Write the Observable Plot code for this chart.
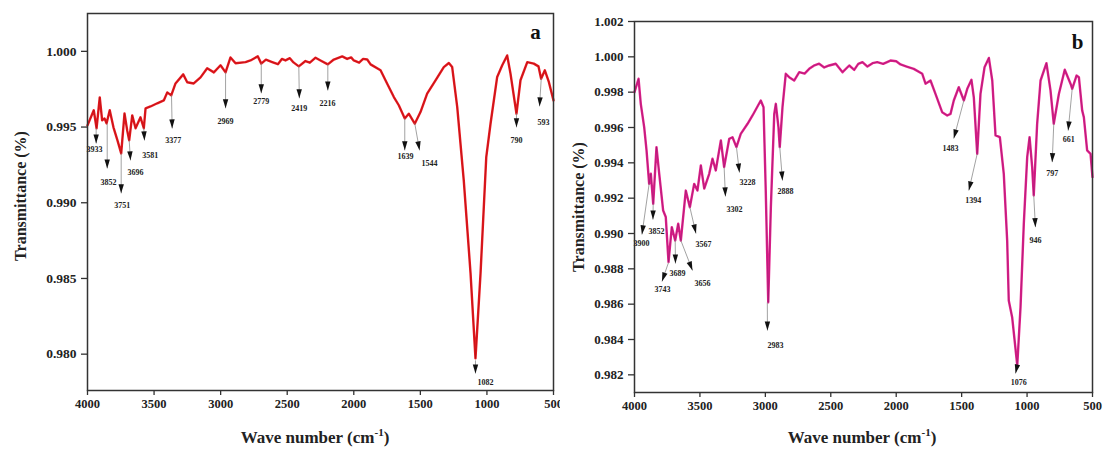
<!DOCTYPE html>
<html><head><meta charset="utf-8">
<script src="https://cdn.jsdelivr.net/npm/d3@7"></script>
<script src="https://cdn.jsdelivr.net/npm/@observablehq/plot@0.6"></script>
<style>
body{margin:0;background:#fff;}
#wrap{position:relative;width:1103px;height:451px;overflow:hidden;font-family:"Liberation Serif","DejaVu Serif",serif;}
.panel{position:absolute;top:0;}
.xt{position:absolute;font-weight:bold;font-size:17px;line-height:20px;transform:translateX(-50%);white-space:nowrap;color:#222;}
.xt sup{font-size:11px;vertical-align:7px;line-height:0;}
</style></head><body><div id="wrap"></div>
<script>
// ---- shared axis ticks ----
const xTicks = [4000, 3500, 3000, 2500, 2000, 1500, 1000, 500];
const yTicksA = [0.980, 0.985, 0.990, 0.995, 1.000];
const yTicksB = [0.982, 0.984, 0.986, 0.988, 0.990, 0.992, 0.994, 0.996, 0.998, 1.000, 1.002];

// ---- panel a spectrum ----
const wnA = [4000,3953,3932,3908,3890,3872,3857,3833,3805,3775,3747,3722,3702,3687,3664,3639,3602,3577,3564,3527,3476,3427,3401,3371,3339,3281,3251,3202,3151,3101,3051,3001,2963,2926,2888,2813,2776,2721,2695,2660,2613,2570,2540,2513,2480,2453,2413,2363,2330,2287,2250,2195,2150,2087,2050,2020,2000,1960,1930,1899,1874,1799,1749,1699,1662,1617,1587,1542,1499,1449,1386,1324,1286,1261,1223,1174,1123,1086,1048,1005,973,923,885,848,823,778,748,697,648,613,593,565,535,500];
const trA = [0.99511,0.99611,0.99492,0.99696,0.99544,0.99557,0.99524,0.99611,0.99498,0.99412,0.99326,0.99590,0.99478,0.99412,0.99577,0.99492,0.99564,0.99492,0.99623,0.99636,0.99657,0.99676,0.99729,0.99709,0.99788,0.99848,0.99796,0.99788,0.99828,0.99888,0.99861,0.99908,0.99861,0.99960,0.99921,0.99929,0.99940,0.99967,0.99919,0.99945,0.99929,0.99915,0.99950,0.99940,0.99955,0.99927,0.99901,0.99936,0.99925,0.99958,0.99940,0.99914,0.99946,0.99967,0.99950,0.99960,0.99940,0.99925,0.99950,0.99946,0.99914,0.99875,0.99786,0.99698,0.99644,0.99557,0.99588,0.99522,0.99599,0.99721,0.99809,0.99896,0.99923,0.99896,0.99632,0.99148,0.98534,0.97972,0.98534,0.99302,0.99522,0.99831,0.99908,0.99973,0.99853,0.99588,0.99809,0.99929,0.99919,0.99901,0.99819,0.99875,0.99798,0.99676];

// ---- panel a peak annotations ----
const annA = {
  label: ["3933","3852","3751","3696","3581","3377","2969","2779","2419","2216","1639","1544","1082","790","593"],
  w1: [3935,3852,3747,3687,3577,3369,2963,2695,2413,2195,1617,1542,1086,778,592],
  t1: [0.99491,0.99524,0.99326,0.99412,0.99491,0.99709,0.99861,0.99921,0.99901,0.99914,0.99557,0.99524,0.97959,0.99590,0.99822],
  w2: [3935,3852,3747,3677,3572,3364,2963,2695,2409,2195,1617,1506,1086,778,605],
  t2: [0.99392,0.99227,0.99062,0.99280,0.99412,0.99491,0.99624,0.99723,0.99690,0.99742,0.99346,0.99346,0.97873,0.99498,0.99637],
  tw: [3947,3842,3739,3639,3529,3356,2963,2695,2409,2197,1612,1431,1011,778,575],
  tt: [0.99353,0.99135,0.98983,0.99201,0.99313,0.99412,0.99538,0.99670,0.99624,0.99657,0.99307,0.99260,0.97814,0.99412,0.99531]
};

// ---- panel b spectrum ----
const wnB = [4000,3969,3952,3926,3908,3888,3875,3857,3832,3811,3781,3761,3740,3715,3689,3666,3646,3608,3577,3544,3519,3493,3467,3429,3404,3379,3340,3315,3276,3251,3221,3188,3136,3098,3035,3014,2997,2978,2958,2932,2920,2900,2890,2869,2844,2818,2780,2741,2700,2665,2630,2589,2550,2512,2462,2410,2359,2321,2290,2258,2220,2181,2145,2100,2044,2000,1967,1920,1866,1801,1776,1738,1700,1649,1610,1585,1560,1522,1483,1457,1425,1407,1381,1356,1325,1292,1266,1241,1208,1178,1152,1140,1114,1075,1050,1025,999,981,961,949,923,897,852,821,796,757,712,668,655,622,604,579,566,541,515,500];
const trB = [0.99800,0.99876,0.99734,0.99602,0.99470,0.99281,0.99338,0.99168,0.99489,0.99338,0.99130,0.99093,0.98838,0.99036,0.98960,0.99055,0.98960,0.99243,0.99149,0.99281,0.99243,0.99385,0.99254,0.99338,0.99423,0.99357,0.99527,0.99376,0.99536,0.99545,0.99489,0.99564,0.99621,0.99668,0.99753,0.99715,0.99243,0.98610,0.99149,0.99677,0.99734,0.99602,0.99489,0.99715,0.99904,0.99885,0.99866,0.99913,0.99905,0.99932,0.99950,0.99961,0.99940,0.99951,0.99961,0.99913,0.99951,0.99926,0.99960,0.99970,0.99945,0.99964,0.99970,0.99960,0.99979,0.99975,0.99957,0.99945,0.99932,0.99904,0.99848,0.99866,0.99790,0.99687,0.99668,0.99677,0.99753,0.99828,0.99753,0.99819,0.99870,0.99771,0.99451,0.99790,0.99941,0.99994,0.99866,0.99555,0.99545,0.99338,0.98960,0.98621,0.98526,0.98253,0.98583,0.99055,0.99432,0.99545,0.99376,0.99215,0.99621,0.99866,0.99964,0.99810,0.99621,0.99790,0.99927,0.99848,0.99819,0.99894,0.99885,0.99697,0.99658,0.99470,0.99451,0.99319];

// ---- panel b peak annotations ----
const annB = {
  label: ["3900","3852","3743","3689","3656","3567","3302","3228","2983","2888","1483","1394","1076","946","797","661"],
  w1: [3888,3857,3740,3689,3646,3577,3315,3221,2985,2890,1483,1381,1075,949,796,655],
  t1: [0.99282,0.99168,0.98836,0.98961,0.98961,0.99149,0.99375,0.99489,0.98610,0.99489,0.99753,0.99451,0.98253,0.99215,0.99621,0.99819],
  w2: [3943,3859,3790,3687,3557,3530,3305,3198,2984,2869,1560,1445,1088,936,808,686],
  t2: [0.98995,0.99079,0.98729,0.98830,0.98791,0.99000,0.99210,0.99345,0.98451,0.99300,0.99538,0.99244,0.98208,0.99036,0.99404,0.99583],
  tw: [3947,3832,3786,3671,3480,3473,3236,3136,2922,2846,1585,1412,1063,936,808,681],
  tt: [0.98944,0.99012,0.98683,0.98774,0.98717,0.98938,0.99136,0.99289,0.98366,0.99238,0.99481,0.99187,0.98157,0.98961,0.99338,0.99531]
};

const FONT = '"Liberation Serif","DejaVu Serif",serif';
// arrow head: tip at origin, pointing down before rotation
const headSym = {draw(ctx){ const h = 9, hw = 2.7; ctx.moveTo(0,0); ctx.lineTo(-hw,-h); ctx.lineTo(hw,-h); ctx.closePath(); }};

function makePanel(c){
  const sx = d3.scaleLinear([4000,500],[c.ml, c.W - c.mr]);
  const sy = d3.scaleLinear(c.yDomain,[c.H - c.mb, c.mt]);
  const spec = c.wn.map((w,i)=>({w, t:c.tr[i]}));
  const a = c.ann;
  const notes = a.label.map((l,i)=>({
    label:l, w1:a.w1[i], t1:a.t1[i], w2:a.w2[i], t2:a.t2[i], tw:a.tw[i], tt:a.tt[i],
    rot: Math.atan2(-(sx(a.w2[i]) - sx(a.w1[i])), sy(a.t2[i]) - sy(a.t1[i])) * 180 / Math.PI
  }));
  return Plot.plot({
    width:c.W, height:c.H, marginLeft:c.ml, marginRight:c.mr, marginTop:c.mt, marginBottom:c.mb,
    x:{domain:[4000,500]}, y:{domain:c.yDomain},
    style:{fontFamily:FONT, fontWeight:"bold", color:"#222", background:"white", overflow:"visible"},
    marks:[
      Plot.axisX(xTicks, {tickSize:5, tickPadding:4, fontSize:12.5, tickFormat:d=>String(d), label:null, stroke:"#333", strokeWidth:1.3}),
      Plot.axisY(c.yTicks, {tickSize:6, tickPadding:5, fontSize:c.yFont, tickFormat:d=>d.toFixed(3), label:null, stroke:"#333", strokeWidth:1.3}),
      Plot.line(spec, {x:"w", y:"t", stroke:c.color, strokeWidth:2.4, strokeLinejoin:"round"}),
      Plot.line(spec, {x:"w", y:"t", stroke:c.core, strokeWidth:0.7, strokeOpacity:0.45}),
      Plot.link(notes, {x1:"w1", y1:"t1", x2:"w2", y2:"t2", stroke:"#8a8a8a", strokeWidth:0.8}),
      Plot.dot(notes, {x:"w2", y:"t2", symbol:headSym, r:3, fill:"#111", stroke:"none", rotate:"rot"}),
      Plot.text(notes, {x:"tw", y:"tt", text:"label", fontSize:8, fill:"#222"}),
      Plot.text([c.letter], {text:d=>d, frameAnchor:"top-right", textAnchor:"middle", lineAnchor:"middle", dx:c.ldx, dy:c.ldy, fontSize:21, fill:"#111"}),
      Plot.text(["Transmittance (%)"], {text:d=>d, frameAnchor:"left", textAnchor:"middle", lineAnchor:"middle", rotate:-90, dx:c.ylDx, dy:c.ylDy, fontSize:16, fill:"#222"}),
      Plot.frame({stroke:"#333", strokeWidth:1.5})
    ]
  });
}

const wrap = document.getElementById("wrap");
function place(node, left){ const d = document.createElement("div"); d.className="panel"; d.style.left = left+"px"; d.appendChild(node); wrap.appendChild(d); }

place(makePanel({W:560, H:420, ml:87, mr:7, mt:13, mb:30, yDomain:[0.9776,1.0025], yTicks:yTicksA, yFont:13.5,
  wn:wnA, tr:trA, color:"#ea1a20", core:"#7a0a0a", ann:annA, letter:"a", ldx:-18, ldy:19, ylDx:-67, ylDy:-6}), 0);
place(makePanel({W:543, H:420, ml:74, mr:11, mt:21, mb:28, yDomain:[0.981,1.002], yTicks:yTicksB, yFont:13,
  wn:wnB, tr:trB, color:"#e4208c", core:"#5a1a5a", ann:annB, letter:"b", ldx:-15, ldy:21, ylDx:-56, ylDy:0}), 560);

function xTitle(center){ const d = document.createElement("div"); d.className="xt"; d.style.left = center+"px"; d.style.top = "428px"; d.innerHTML = "Wave number (cm<sup>-1</sup>)"; wrap.appendChild(d); }
xTitle(315); xTitle(862);
</script>
</body></html>
